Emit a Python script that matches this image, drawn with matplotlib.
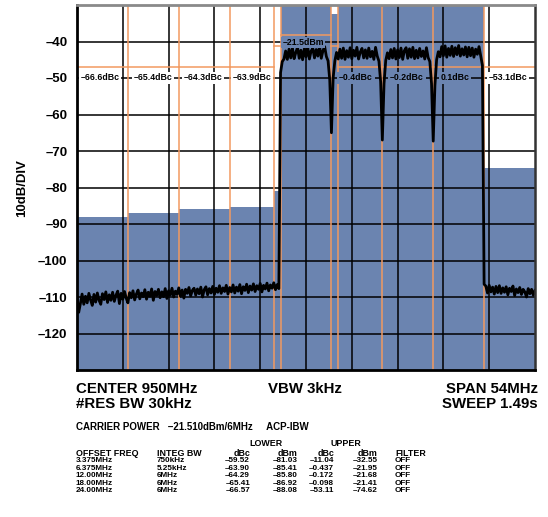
import numpy as np
import matplotlib
matplotlib.use("Agg")
import matplotlib.pyplot as plt

plt.rcParams["font.family"] = ["Liberation Sans", "DejaVu Sans"]
plt.rcParams["font.weight"] = "bold"

# ---------------------------------------------------------------------
# Data (offset from 950 MHz centre, MHz ; levels in dBm)
# ---------------------------------------------------------------------
SPAN_START, SPAN_STOP = -27.0, 27.0

# ACP integration bands
band_lo = [-27, -21, -15, -9, -3.75, -3, 3, 3.75, 9, 15, 21]
band_hi = [-21, -15, -9, -3.75, -3, 3, 3.75, 9, 15, 21, 27]
band_dbm = [-88.08, -86.92, -85.80, -85.41, -81.03, -21.51,
            -32.55, -21.95, -21.68, -21.41, -74.62]
# orange limit-box tops per band
band_box = [-47, -47, -47, -47, -41.2, -38.3,
            -41.2, -47, -47, -47, -47]

# dBc readouts shown in the trace
acp_text = ["\u201366.6dBc", "\u201365.4dBc", "\u201364.3dBc", "\u201363.9dBc",
            "\u20130.4dBc", "\u20130.2dBc", "0.1dBc", "\u201353.1dBc"]
acp_text_x = [-24.3, -18.0, -12.1, -6.4, 5.9, 11.9, 17.6, 23.8]
carrier_text = "\u201321.5dBm"

# spectrum trace, one reading every 0.2 MHz across the span
trace_dbm = [
    # -27.0 .. -3.2 MHz  (noise floor, lower side)
    -110.0, -114.2, -111.8, -109.2, -112.0, -109.8, -111.6, -109.0, -110.8, -112.3,
    -109.3, -111.4, -108.9, -110.9, -112.0, -109.1, -110.7, -108.6, -111.5, -109.4,
    -110.9, -108.7, -111.2, -109.5, -108.4, -111.8, -109.0, -110.6, -108.5, -110.3,
    -111.6, -108.8, -110.2, -108.3, -110.8, -109.2, -108.1, -110.5, -108.9, -109.9,
    -108.0, -110.6, -108.7, -109.8, -107.8, -110.9, -108.5, -109.6, -107.9, -110.2,
    -108.6, -109.9, -107.7, -110.4, -108.3, -109.5, -107.6, -110.0, -108.4, -109.3,
    -107.5, -109.8, -108.1, -110.3, -107.9, -109.0, -107.4, -109.7, -108.2, -107.6,
    -109.5, -107.8, -109.1, -107.3, -110.0, -108.0, -107.2, -109.4, -107.7, -108.9,
    -107.1, -109.3, -107.6, -108.7, -106.9, -109.0, -107.5, -108.5, -106.8, -109.2,
    -107.4, -108.6, -106.7, -108.9, -107.3, -108.4, -106.6, -109.1, -107.2, -108.2,
    -106.5, -108.8, -107.0, -108.1, -106.4, -108.5, -106.9, -107.9, -106.3, -108.6,
    -106.8, -107.8, -106.2, -108.3, -106.7, -107.6, -106.1, -108.0, -106.6, -107.7,
    # -3.0 .. 2.8 MHz  (carrier 1)
    -48.5, -45.5, -44.8, -42.6, -44.9, -42.1, -44.5, -41.8, -44.7, -43.0,
    -41.6, -44.6, -42.4, -45.0, -42.0, -44.2, -41.5, -44.8, -42.6, -41.9,
    -44.5, -42.2, -44.0, -41.3, -44.6, -42.5, -41.4, -44.1, -45.3, -50.5,
    # 3.0 MHz notch
    -65.0,
    # 3.2 .. 8.8 MHz  (carrier 2)
    -50.0, -45.3, -43.0, -44.8, -42.1, -44.6, -41.8, -44.9, -42.5,
    -44.3, -41.7, -44.7, -42.4, -44.0, -41.6, -44.8, -42.9, -41.9, -44.5,
    -42.3, -44.6, -41.8, -44.2, -42.7, -44.9, -41.6, -44.0, -45.4, -51.0,
    # 9.0 MHz notch
    -67.0,
    # 9.2 .. 14.8 MHz  (carrier 3)
    -51.5, -45.2, -43.1, -44.7, -42.2, -44.5, -41.9, -44.8, -42.3,
    -44.4, -41.8, -44.9, -42.5, -41.7, -44.6, -42.0, -44.3, -41.6, -44.7,
    -42.4, -44.5, -41.9, -44.1, -42.6, -44.8, -41.7, -44.4, -45.5, -51.5,
    # 15.0 MHz notch
    -67.3,
    # 15.2 .. 20.8 MHz  (carrier 4)
    -52.0, -45.0, -42.8, -44.2, -41.4, -43.9, -41.2, -44.3, -41.9,
    -43.8, -41.3, -44.1, -41.7, -43.6, -41.1, -44.0, -42.0, -43.7, -41.5,
    -44.2, -41.6, -43.9, -41.8, -44.3, -42.1, -43.5, -41.4, -44.0, -46.5,
    # 21.0 .. 27.0 MHz  (noise floor, upper side)
    -106.5,
    -107.0, -108.9, -106.8, -108.6, -107.3, -109.2, -107.1, -108.8, -106.9, -109.0,
    -107.5, -108.7, -107.2, -109.4, -107.6, -108.5, -107.0, -109.6, -107.8, -108.8,
    -107.4, -109.3, -107.9, -108.6, -110.0, -107.7, -109.1, -107.9, -109.5, -108.2,
]
trace_mhz = np.linspace(SPAN_START, SPAN_STOP, len(trace_dbm))

y_ticks = [-120, -110, -100, -90, -80, -70, -60, -50, -40]

# table below the plot
table_rows = [
    ["3.375MHz", "750kHz", "\u201359.52", "\u201381.03", "\u201311.04", "\u201332.55", "OFF"],
    ["6.375MHz", "5.25kHz", "\u201363.90", "\u201385.41", "\u20130.437", "\u201321.95", "OFF"],
    ["12.00MHz", "6MHz", "\u201364.29", "\u201385.80", "\u20130.172", "\u201321.68", "OFF"],
    ["18.00MHz", "6MHz", "\u201365.41", "\u201386.92", "\u20130.098", "\u201321.41", "OFF"],
    ["24.00MHz", "6MHz", "\u201366.57", "\u201388.08", "\u201353.11", "\u201374.62", "OFF"],
]

# Colors
BLUE = "#6B84B0"
ORANGE = "#F29A60"

W, H = 548, 517
fig = plt.figure(figsize=(W / 100, H / 100), dpi=100)
ax = fig.add_axes([77 / W, 1 - 370 / H, 458 / W, 365 / H])

# ACP bands (blue fill)
ax.bar(band_lo, np.array(band_dbm) + 130, bottom=-130,
       width=np.array(band_hi) - np.array(band_lo), align="edge",
       color=BLUE, linewidth=0, zorder=1)

# grid
for k in range(1, 10):
    ax.axvline(SPAN_START + k * 5.4, color="black", lw=1.1, zorder=2)
for v in y_ticks:
    ax.axhline(v, color="black", lw=1.1, zorder=2)

# orange band boxes
for lo, hi, top in zip(band_lo, band_hi, band_box):
    ax.plot([lo, hi], [top, top], color=ORANGE, lw=1.1, zorder=3)
for e in band_hi[:-1]:
    ax.axvline(e, color=ORANGE, lw=1.1, zorder=3)

# trace
ax.plot(trace_mhz, trace_dbm, color="black", lw=2.0, zorder=5)

# readouts
for txt, xx in zip(acp_text, acp_text_x):
    bg = BLUE if 3 < xx < 21 else "white"
    ax.text(xx, -50, txt, ha="center", va="center", fontsize=6.3,
            fontweight="bold", zorder=6,
            bbox=dict(boxstyle="square,pad=0.2", facecolor=bg, edgecolor="none"))
ax.text(-0.35, -40.3, carrier_text, ha="center", va="center", fontsize=6.3,
        fontweight="bold", zorder=6,
        bbox=dict(boxstyle="square,pad=0.15", facecolor=BLUE, edgecolor="none"))

ax.set_xlim(SPAN_START, SPAN_STOP)
ax.set_ylim(-130, -30)
ax.set_xticks([])
ax.set_yticks(y_ticks)
ax.set_yticklabels([f"\u2013{abs(v)}" for v in y_ticks], fontsize=9.5,
                   fontweight="bold")
ax.tick_params(axis="y", length=0, pad=7)

for side in ["left", "bottom"]:
    ax.spines[side].set_linewidth(2)
    ax.spines[side].set_color("black")
ax.spines["top"].set_linewidth(2)
ax.spines["top"].set_color("#8A8A8A")
ax.spines["right"].set_linewidth(1.8)
ax.spines["right"].set_color("#333333")
for s in ax.spines.values():
    s.set_zorder(7)

fig.text(22 / W, 1 - 188 / H, "10dB/DIV", rotation=90, ha="center",
         va="center", fontsize=9.5, fontweight="bold")

# instrument settings
def ft(x, y, s, **kw):
    fig.text(x / W, 1 - y / H, s, va="center", fontweight="bold", **kw)

ft(76, 389, "CENTER 950MHz", fontsize=10.8)
ft(76, 404, "#RES BW 30kHz", fontsize=10.8)
ft(305, 389, "VBW 3kHz", fontsize=10.8, ha="center")
ft(538, 389, "SPAN 54MHz", fontsize=10.8, ha="right")
ft(538, 404, "SWEEP 1.49s", fontsize=10.8, ha="right")

ft(76, 427, "CARRIER POWER   \u201321.510dBm/6MHz     ACP-IBW", fontsize=7)

TBL_FS = 5.9
ft(266, 444, "LOWER", fontsize=6.4, ha="center")
ft(346, 444, "UPPER", fontsize=6.4, ha="center")

col_x = [76, 157, 250, 298, 334, 378, 395]
col_ha = ["left", "left", "right", "right", "right", "right", "left"]
header = ["OFFSET FREQ", "INTEG BW", "dBc", "dBm", "dBc", "dBm", "FILTER"]
for cx, ha, h in zip(col_x, col_ha, header):
    ft(cx, 453, h, fontsize=6.4, ha=ha)
for r, row in enumerate(table_rows):
    y = 461 + r * 7.4
    for cx, ha, v in zip(col_x, col_ha, row):
        ft(cx, y, v, fontsize=TBL_FS, ha=ha)

fig.savefig("out.png", dpi=100)
plt.close(fig)
